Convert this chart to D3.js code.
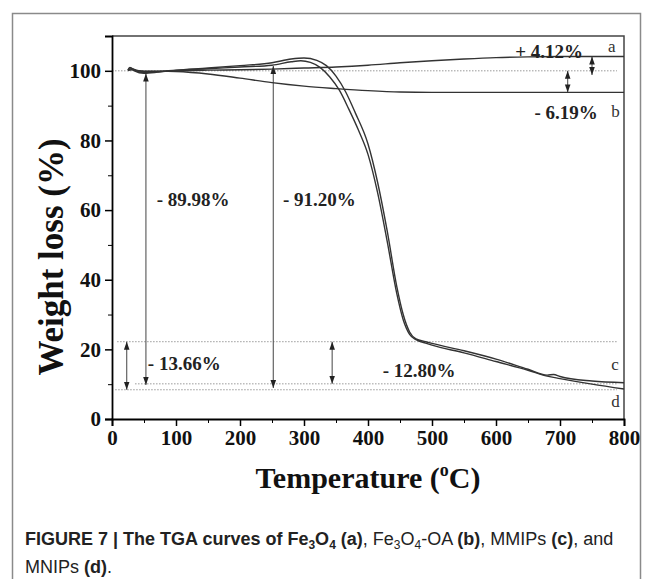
<!DOCTYPE html>
<html>
<head>
<meta charset="utf-8">
<script src="https://cdn.jsdelivr.net/npm/d3@7"></script>
<style>
  body { margin: 0; background: #fff; }
  svg { display: block; }
</style>
</head>
<body>
<div id="chart"></div>
<script>
// TGA curves, temperature (°C) vs weight (%)
const aTemp = [25, 30, 40, 50, 75, 100, 150, 200, 250, 300, 350, 400, 450, 500, 550, 600, 650, 700, 750, 800];
const aWeight = [100.2, 100.6, 100.1, 99.8, 99.8, 100.0, 100.2, 100.3, 100.5, 100.8, 101.1, 101.6, 102.3, 102.9, 103.4, 103.8, 104.0, 104.1, 104.1, 104.1];

const bTemp = [25, 30, 40, 50, 75, 100, 150, 200, 250, 300, 350, 400, 450, 500, 550, 600, 700, 800];
const bWeight = [100.1, 100.3, 100.0, 99.9, 99.9, 99.8, 99.1, 97.9, 96.6, 95.6, 94.9, 94.3, 93.9, 93.8, 93.8, 93.8, 93.8, 93.8];

const cTemp = [25, 28, 35, 50, 75, 100, 150, 200, 250, 280, 300, 320, 335, 350, 365, 380, 400, 415, 430, 445, 455, 465, 475, 490, 500, 550, 600, 650, 680, 690, 700, 750, 800];
const cWeight = [100.3, 101.0, 100.2, 99.5, 99.8, 100.2, 100.8, 101.5, 102.3, 103.4, 103.7, 103.0, 101.5, 98.5, 94.0, 88.0, 79.0, 68.0, 54.0, 38.0, 30.0, 25.0, 23.0, 22.2, 21.7, 19.6, 17.2, 14.3, 12.6, 12.8, 12.2, 10.9, 10.4];

const dTemp = [25, 28, 35, 50, 75, 100, 150, 200, 250, 280, 295, 310, 325, 340, 355, 370, 385, 400, 415, 430, 445, 455, 465, 475, 490, 500, 550, 600, 650, 680, 700, 750, 800];
const dWeight = [100.2, 100.9, 100.0, 99.3, 99.7, 100.1, 100.6, 101.1, 101.6, 102.6, 102.9, 102.4, 101.0, 98.3, 94.5, 89.0, 83.0, 76.0, 65.0, 51.0, 36.0, 28.5, 24.3, 22.8, 21.8, 21.2, 19.0, 16.5, 14.0, 12.3, 11.6, 10.0, 8.6];

const xTicks = [0, 100, 200, 300, 400, 500, 600, 700, 800];
const yTicks = [0, 20, 40, 60, 80, 100];

// reference levels (dotted lines): [weight, start temp]
const refLevels = [[100, 0], [22.2, 8], [10.1, 36], [8.4, 5]];

// arrows: [temp, from weight, to weight]
const arrows = [[53, 99.2, 9.8], [252, 101.4, 8.9], [23, 22.2, 8.4], [344, 22.2, 10.1], [712, 100, 93.8], [750, 104.1, 98.8]];

// percentage labels: [text, temp, weight, anchor]
const pctLabels = [
  ["+ 4.12%", 736, 103.7, "end"],
  ["- 6.19%", 759, 86.2, "end"],
  ["- 89.98%", 70, 61.1, "start"],
  ["- 91.20%", 267, 61.1, "start"],
  ["- 13.66%", 56, 14.1, "start"],
  ["- 12.80%", 423, 12.1, "start"]
];
const curveLabels = [["a", 775, 105.5], ["b", 780, 86.7], ["c", 780, 14.1], ["d", 780, 3.5]];

const W = 652, H = 579;
const margin = { top: 36, right: 28, bottom: 160, left: 112 };

const svg = d3.select("#chart").append("svg")
  .attr("width", W)
  .attr("height", H);

// outer frame
svg.append("rect")
  .attr("x", 12.5).attr("y", 13.5)
  .attr("width", 628).attr("height", 620)
  .attr("fill", "none")
  .attr("stroke", "#8a8a8a")
  .attr("stroke-width", 1.5);

const x = d3.scaleLinear()
  .domain([0, 800])
  .range([margin.left, W - margin.right]);

const y = d3.scaleLinear()
  .domain([0, 110])
  .range([H - margin.bottom, margin.top]);

const defs = svg.append("defs");
["start", "end"].forEach(k => {
  defs.append("marker")
    .attr("id", "head-" + k)
    .attr("viewBox", "0 0 10 10")
    .attr("refX", 10).attr("refY", 5)
    .attr("markerWidth", 8).attr("markerHeight", 8)
    .attr("markerUnits", "userSpaceOnUse")
    .attr("orient", k === "start" ? "auto-start-reverse" : "auto")
    .append("path")
    .attr("d", "M0,1.5 L10,5 L0,8.5 Z")
    .attr("fill", "#222");
});

// plot box (top and right)
svg.append("path")
  .attr("d", `M${x(0)},${y(110)} H${x(800)} V${y(0)}`)
  .attr("fill", "none")
  .attr("stroke", "#444")
  .attr("stroke-width", 1.5);

// dotted reference lines
svg.append("g")
  .selectAll("line")
  .data(refLevels)
  .join("line")
  .attr("x1", d => x(d[1]))
  .attr("x2", x(789))
  .attr("y1", d => y(d[0]))
  .attr("y2", d => y(d[0]))
  .attr("stroke", "#999")
  .attr("stroke-width", 1)
  .attr("stroke-dasharray", "1.5,1.5");

// arrows
svg.append("g")
  .selectAll("line")
  .data(arrows)
  .join("line")
  .attr("x1", d => x(d[0]))
  .attr("x2", d => x(d[0]))
  .attr("y1", d => y(d[1]))
  .attr("y2", d => y(d[2]))
  .attr("stroke", "#555")
  .attr("stroke-width", 1.1)
  .attr("marker-start", "url(#head-start)")
  .attr("marker-end", "url(#head-end)");

// curves
const line = d3.line()
  .x(d => x(d[0]))
  .y(d => y(d[1]))
  .curve(d3.curveMonotoneX);

const series = [
  d3.zip(aTemp, aWeight),
  d3.zip(bTemp, bWeight),
  d3.zip(cTemp, cWeight),
  d3.zip(dTemp, dWeight)
];

svg.append("g")
  .selectAll("path")
  .data(series)
  .join("path")
  .attr("d", line)
  .attr("fill", "none")
  .attr("stroke", "#333")
  .attr("stroke-width", 1.4);

// axes
const serif = "'Liberation Serif', 'Times New Roman', serif";

const xAxis = g => g
  .attr("transform", `translate(0,${y(0)})`)
  .call(d3.axisBottom(x).tickValues(xTicks).tickSize(7).tickPadding(4))
  .call(g => g.select(".domain").attr("stroke-width", 1.8))
  .call(g => g.selectAll(".tick line").attr("stroke-width", 1.5))
  .call(g => g.selectAll("text")
    .attr("font-family", serif)
    .attr("font-weight", "bold")
    .attr("font-size", "21px")
    .attr("fill", "#111"));

const yAxis = g => g
  .attr("transform", `translate(${x(0)},0)`)
  .call(d3.axisLeft(y).tickValues(yTicks).tickSize(7).tickPadding(4))
  .call(g => g.select(".domain").attr("stroke-width", 1.8))
  .call(g => g.selectAll(".tick line").attr("stroke-width", 1.5))
  .call(g => g.selectAll("text")
    .attr("font-family", serif)
    .attr("font-weight", "bold")
    .attr("font-size", "21px")
    .attr("fill", "#111"));

svg.append("g").call(xAxis);
svg.append("g").call(yAxis);

// minor ticks
svg.append("g")
  .attr("transform", `translate(0,${y(0)})`)
  .call(d3.axisBottom(x).tickValues(d3.range(50, 800, 100)).tickSize(4).tickFormat(""))
  .call(g => g.select(".domain").remove());
svg.append("g")
  .attr("transform", `translate(${x(0)},0)`)
  .call(d3.axisLeft(y).tickValues(d3.range(10, 110, 20)).tickSize(4).tickFormat(""))
  .call(g => g.select(".domain").remove());

// axis titles
svg.append("text")
  .attr("x", (x(0) + x(800)) / 2)
  .attr("y", 488)
  .attr("text-anchor", "middle")
  .attr("font-family", serif)
  .attr("font-weight", "bold")
  .attr("font-size", "30px")
  .attr("fill", "#111")
  .call(t => {
    t.append("tspan").text("Temperature (");
    t.append("tspan").attr("font-size", "18px").attr("dy", -12).text("o");
    t.append("tspan").attr("dy", 12).text("C)");
  });

svg.append("text")
  .attr("transform", "translate(63,257) rotate(-90)")
  .attr("text-anchor", "middle")
  .attr("font-family", serif)
  .attr("font-weight", "bold")
  .attr("font-size", "35px")
  .attr("fill", "#111")
  .text("Weight loss (%)");

// annotations
svg.append("g")
  .selectAll("text")
  .data(pctLabels)
  .join("text")
  .attr("x", d => x(d[1]))
  .attr("y", d => y(d[2]))
  .attr("text-anchor", d => d[3])
  .attr("font-family", serif)
  .attr("font-weight", "bold")
  .attr("font-size", "19px")
  .attr("fill", "#222")
  .text(d => d[0]);

svg.append("g")
  .selectAll("text")
  .data(curveLabels)
  .join("text")
  .attr("x", d => x(d[1]))
  .attr("y", d => y(d[2]))
  .attr("font-family", serif)
  .attr("font-size", "17px")
  .attr("fill", "#333")
  .text(d => d[0]);

// caption
const sans = "'Liberation Sans', Arial, sans-serif";
const cap = svg.append("g")
  .attr("font-family", sans)
  .attr("font-size", "18px")
  .attr("fill", "#222");

const line1 = cap.append("text").attr("x", 25).attr("y", 545);
const parts1 = [
  ["FIGURE 7 | The TGA curves of Fe", true], ["3", true, "sub"], ["O", true], ["4", true, "sub"],
  [" (a)", true], [", Fe", false], ["3", false, "sub"], ["O", false], ["4", false, "sub"],
  ["-OA ", false], ["(b)", true], [", MMIPs ", false], ["(c)", true], [", and", false]
];
function addParts(t, parts) {
  let shifted = false;
  parts.forEach(p => {
    const s = t.append("tspan")
      .attr("font-weight", p[1] ? "bold" : "normal")
      .text(p[0]);
    if (p[2] === "sub") {
      s.attr("font-size", "12px").attr("dy", 4);
      shifted = true;
    } else if (shifted) {
      s.attr("dy", -4);
      shifted = false;
    }
  });
}
addParts(line1, parts1);

const line2 = cap.append("text").attr("x", 25).attr("y", 573);
addParts(line2, [["MNIPs ", false], ["(d)", true], [".", false]]);
</script>
</body>
</html>
